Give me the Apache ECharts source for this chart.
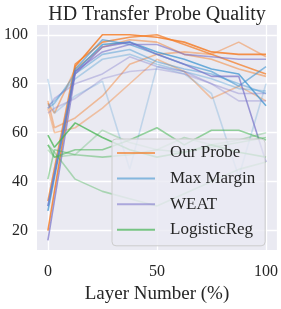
<!DOCTYPE html>
<html><head><meta charset="utf-8">
<script src="https://cdn.jsdelivr.net/npm/echarts@6/dist/echarts.min.js"></script>
<style>html,body{margin:0;padding:0;background:#fff}#c{width:281px;height:309px}</style>
</head><body><div id="c"></div>
<script>
// layer positions (% of depth)
const layers = [0, 3, 12.5, 25, 37.5, 50, 62.5, 75, 87.5, 100];
const xTicks = [0, 50, 100];
const yTicks = [20, 40, 60, 80, 100];

// Our Probe runs
const ourProbe = [
  [20, null, 87, 100, 100, 99, 97, 93, 92, 92],
  [32, null, 88, 97, 99, 100, 96, 92, 88, 84],
  [72, 68, 86, 95, 98, 97, 92, 90, 86, 83],
  [73, 62, 66, 75, 88, 92, 93, 92, 97, 91],
  [70, 60, 62, 70, 80, 90, 85, 74, 79, 73]
];
const ourProbeAlpha = [0.85, 0.75, 0.5, 0.45, 0.4];

// Max Margin runs
const maxMargin = [
  [28, null, 85, 96, 97, 93, 90, 86, 84, 71],
  [30, null, 86, 98, 96, 92, 88, 85, 79, 87],
  [70, 72, 84, 92, 94, 89, 86, 84, 80, 76],
  [71, 73, 82, 90, 92, 88, 85, 82, 78, 77],
  [82, 68, 75, 81, 45, 87, 84, 76, 42, 80]
];
const maxMarginAlpha = [0.75, 0.6, 0.45, 0.35, 0.25];

// WEAT runs
const weat = [
  [16, null, 84, 95, 97, 92, 88, 83, 83, 48],
  [30, null, 85, 93, 96, 96, 92, 91, 90, 90],
  [70, 74, 80, 84, 91, 87, 85, 80, 76, 76],
  [68, 70, 74, 82, 85, 86, 84, 80, 73, 73]
];
const weatAlpha = [0.7, 0.6, 0.35, 0.3];

// LogisticReg runs
const logReg = [
  [59, 54, 64, 58, 53, 50, 52, 55, 52, 50],
  [55, 50, 53, 53, 57, 62, 55, 61, 61, 57],
  [41, 53, 51, 50, 51, 53, 52, 54, 56, 58],
  [55, 52, 41, 36, 33, 30, 35, 40, 45, 48],
  [53, 50, 51, 61, 56, 53, 58, 55, 57, 60]
];
const logRegAlpha = [0.75, 0.55, 0.45, 0.4, 0.3];

const methods = [
  {name: 'Our Probe', color: '#f47f2a', runs: ourProbe, alpha: ourProbeAlpha, legend: 'rgba(244,127,42,0.7)'},
  {name: 'Max Margin', color: '#3f95d0', runs: maxMargin, alpha: maxMarginAlpha, legend: 'rgba(63,149,208,0.6)'},
  {name: 'WEAT', color: '#7670c8', runs: weat, alpha: weatAlpha, legend: 'rgba(118,112,200,0.55)'},
  {name: 'LogisticReg', color: '#45b452', runs: logReg, alpha: logRegAlpha, legend: 'rgba(69,180,82,0.7)'}
];

const FONT = 'Liberation Serif';
const series = [];
methods.forEach(m => {
  m.runs.forEach((run, i) => {
    series.push({
      name: m.name, type: 'line', showSymbol: false, connectNulls: true, silent: true,
      data: run.map((v, j) => [layers[j], v]),
      lineStyle: {color: m.color, width: 1.6, opacity: m.alpha[i]},
      itemStyle: {color: m.color}
    });
  });
});

const chart = echarts.init(document.getElementById('c'), null, {renderer: 'canvas'});
chart.setOption({
  animation: false,
  backgroundColor: '#ffffff',
  title: {text: 'HD Transfer Probe Quality', left: 152, textAlign: 'center', top: 0,
    textStyle: {fontFamily: FONT, fontSize: 20, fontWeight: 'normal', color: '#262626'}},
  grid: {left: 37, right: 4, top: 25, bottom: 54, show: true, backgroundColor: '#eaeaf2', borderWidth: 0},
  legend: {
    orient: 'vertical', left: 112, top: 139,
    width: 156,
    backgroundColor: 'rgba(234,234,242,0.8)', borderColor: '#cccccc', borderWidth: 1, borderRadius: 4,
    padding: [4, 10, 6, 5],
    itemWidth: 38, itemHeight: 2, itemGap: 5.6, icon: 'rect',
    textStyle: {fontFamily: FONT, fontSize: 17, color: '#262626', lineHeight: 20, padding: [0, 0, 0, 10]},
    data: methods.map(m => ({name: m.name, itemStyle: {color: m.legend}}))
  },
  xAxis: {
    type: 'value', min: -5, max: 105,
    name: 'Layer Number (%)', nameLocation: 'middle', nameGap: 34,
    nameTextStyle: {fontFamily: FONT, fontSize: 19, color: '#262626'},
    axisLine: {show: false},
    axisTick: {show: false, customValues: xTicks},
    axisLabel: {customValues: xTicks, fontFamily: FONT, fontSize: 16, color: '#262626', margin: 14},
    splitLine: {show: true, lineStyle: {color: '#ffffff', width: 1.3}}
  },
  yAxis: {
    type: 'value', min: 12, max: 104,
    axisLine: {show: false},
    axisTick: {show: false, customValues: yTicks},
    axisLabel: {customValues: yTicks, fontFamily: FONT, fontSize: 16, color: '#262626', margin: 9},
    splitLine: {show: true, lineStyle: {color: '#ffffff', width: 1.3}}
  },
  series: series
});
</script></body></html>
